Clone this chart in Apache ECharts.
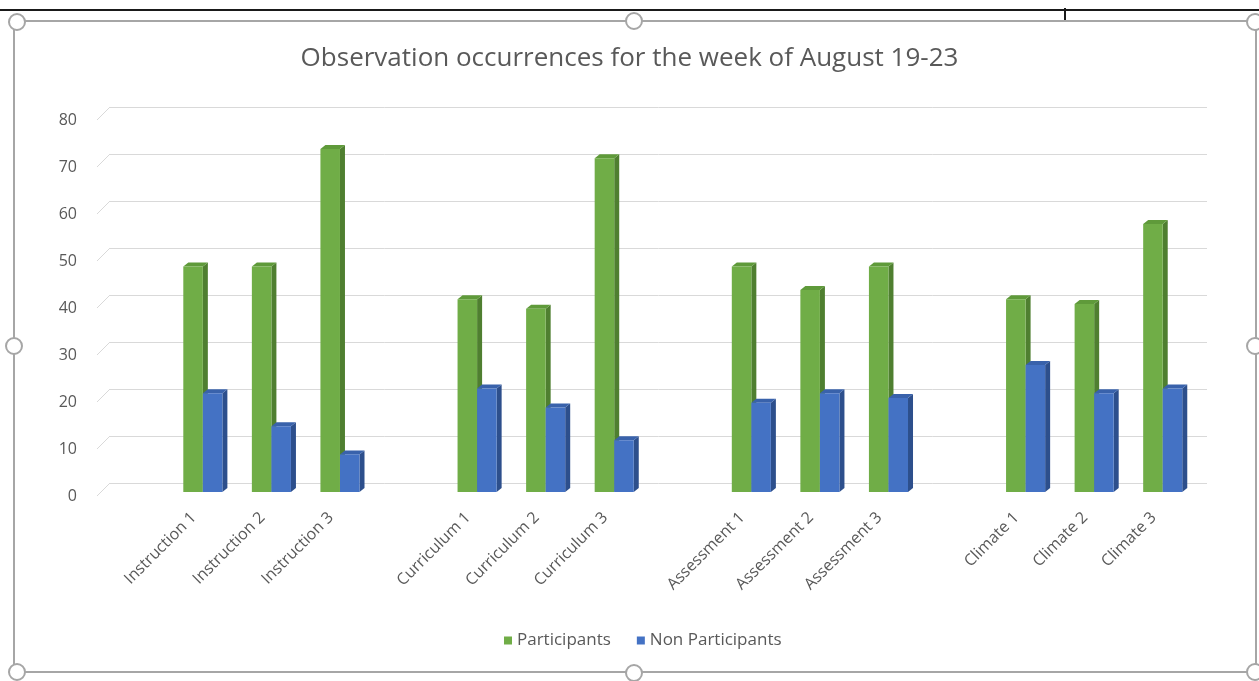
<!DOCTYPE html>
<html>
<head>
<meta charset="utf-8">
<title>Observation occurrences</title>
<script src="https://cdn.jsdelivr.net/npm/echarts@6/dist/echarts.min.js"></script>
<style>
  html, body { margin: 0; padding: 0; background: #ffffff; }
  #chart { width: 1259px; height: 681px; }
</style>
</head>
<body>
<div id="chart"></div>
<script>
// Observation categories; blank slots separate the four groups
const categories = ['', 'Instruction 1', 'Instruction 2', 'Instruction 3', '',
  'Curriculum 1', 'Curriculum 2', 'Curriculum 3', '',
  'Assessment 1', 'Assessment 2', 'Assessment 3', '',
  'Climate 1', 'Climate 2', 'Climate 3'];
const participants    = [null, 48, 48, 73, null, 41, 39, 71, null, 48, 43, 48, null, 41, 40, 57];
const nonParticipants = [null, 21, 14, 8, null, 22, 18, 11, null, 19, 21, 20, null, 27, 21, 22];
const yTicks = [0, 10, 20, 30, 40, 50, 60, 70, 80];

const TEXT = '#595959';
const FONT = '"Open Sans", "Noto Sans", sans-serif';
const DEPTH = 13;            // wall-to-front offset of the pseudo 3D box
const BAR_DX = -10, BAR_DY = 9, BAR_SIDE = 5, BAR_RISE = 4;

const chart = echarts.init(document.getElementById('chart'));

function toData(values) {
  const out = [];
  values.forEach((v, i) => { if (v !== null) out.push([i, v]); });
  return out;
}

// 3D-looking column: front face, right side and top face
function columnRenderer(slot, front, side, top) {
  return function (params, api) {
    const idx = api.value(0);
    const val = api.value(1);
    const base = api.coord([idx, 0]);
    const peak = api.coord([idx, val]);
    const band = api.size([1, 0])[0];
    const w = band * 0.285;
    const x0 = base[0] + BAR_DX + (slot === 0 ? -w : 0);
    const yTop = peak[1] + BAR_DY;
    const yBot = base[1] + BAR_DY;
    return {
      type: 'group',
      children: [
        { type: 'polygon', shape: { points: [[x0 + w, yTop], [x0 + w + BAR_SIDE, yTop - BAR_RISE], [x0 + w + BAR_SIDE, yBot - BAR_RISE], [x0 + w, yBot]] }, style: { fill: side } },
        { type: 'polygon', shape: { points: [[x0, yTop], [x0 + BAR_SIDE, yTop - BAR_RISE], [x0 + w + BAR_SIDE, yTop - BAR_RISE], [x0 + w, yTop]] }, style: { fill: top } },
        { type: 'rect', shape: { x: x0, y: yTop, width: w, height: yBot - yTop }, style: { fill: front } }
      ]
    };
  };
}

// short slanted lines joining back-wall gridlines to the front value labels
function wallEdgeRenderer(params, api) {
  const p = api.coord([0, api.value(1)]);
  const x = params.coordSys.x;
  return {
    type: 'line',
    shape: { x1: x, y1: p[1], x2: x - DEPTH, y2: p[1] + DEPTH },
    style: { stroke: '#D9D9D9', lineWidth: 1 }
  };
}

const handles = [[17, 22], [634, 21], [1255, 22], [14, 346], [1255, 346], [17, 672], [634, 673], [1255, 672]];

const option = {
  backgroundColor: '#ffffff',
  animation: false,
  title: {
    text: 'Observation occurrences for the week of August 19-23',
    left: 'center',
    top: 41,
    textStyle: { color: TEXT, fontFamily: FONT, fontSize: 26, fontWeight: 'normal' }
  },
  legend: {
    top: 627,
    left: 499,
    itemWidth: 8,
    itemHeight: 8,
    itemGap: 26,
    icon: 'rect',
    textStyle: { color: TEXT, fontFamily: FONT, fontSize: 17 },
    data: ['Participants', 'Non Participants']
  },
  grid: [
    { left: 110, top: 107, width: 1097, height: 376 },   // back wall
    { left: 97, top: 120, width: 1097, height: 376 },    // front edge (value labels)
    { left: 91, top: 120, width: 1097, height: 376 }     // category labels
  ],
  xAxis: [
    { type: 'category', gridIndex: 0, data: categories, axisLine: { show: false }, axisTick: { show: false }, axisLabel: { show: false } },
    { type: 'category', gridIndex: 1, data: categories, show: false },
    {
      type: 'category', gridIndex: 2, data: categories,
      axisLine: { show: false }, axisTick: { show: false },
      axisLabel: { interval: 0, rotate: 45, margin: 19, color: TEXT, fontFamily: FONT, fontSize: 16 }
    }
  ],
  yAxis: [
    {
      type: 'value', gridIndex: 0, min: 0, max: 80, interval: 10,
      axisLine: { show: false }, axisTick: { show: false }, axisLabel: { show: false },
      splitLine: { lineStyle: { color: '#D9D9D9', width: 1 } }
    },
    {
      type: 'value', gridIndex: 1, min: 0, max: 80, interval: 10,
      axisLine: { show: false }, axisTick: { show: false }, splitLine: { show: false },
      axisLabel: { margin: 20, color: TEXT, fontFamily: FONT, fontSize: 16 }
    },
    { type: 'value', gridIndex: 2, min: 0, max: 80, interval: 10, show: false }
  ],
  series: [
    {
      type: 'custom', name: 'wall', xAxisIndex: 0, yAxisIndex: 0, silent: true,
      renderItem: wallEdgeRenderer,
      data: yTicks.map(v => [0, v])
    },
    {
      type: 'custom', name: 'Participants', xAxisIndex: 0, yAxisIndex: 0,
      itemStyle: { color: '#70AD47' },
      renderItem: columnRenderer(0, '#70AD47', '#4F7F30', '#5F9A3A'),
      encode: { x: 0, y: 1 },
      data: toData(participants)
    },
    {
      type: 'custom', name: 'Non Participants', xAxisIndex: 0, yAxisIndex: 0,
      itemStyle: { color: '#4472C4' },
      renderItem: columnRenderer(1, '#4472C4', '#2D4F8C', '#3962AB'),
      encode: { x: 0, y: 1 },
      data: toData(nonParticipants)
    }
  ],
  graphic: [
    { type: 'line', shape: { x1: 0, y1: 10, x2: 1259, y2: 10 }, style: { stroke: '#1a1a1a', lineWidth: 2 }, silent: true },
    { type: 'line', shape: { x1: 1065, y1: 8, x2: 1065, y2: 21 }, style: { stroke: '#1a1a1a', lineWidth: 2 }, silent: true },
    { type: 'rect', shape: { x: 14, y: 21, width: 1242, height: 651 }, style: { fill: 'none', stroke: '#A6A6A6', lineWidth: 2 }, silent: true }
  ].concat(handles.map(h => ({
    type: 'circle', shape: { cx: h[0], cy: h[1], r: 8 },
    style: { fill: '#ffffff', stroke: '#A6A6A6', lineWidth: 2 }, silent: true
  })))
};

chart.setOption(option);
</script>
</body>
</html>
